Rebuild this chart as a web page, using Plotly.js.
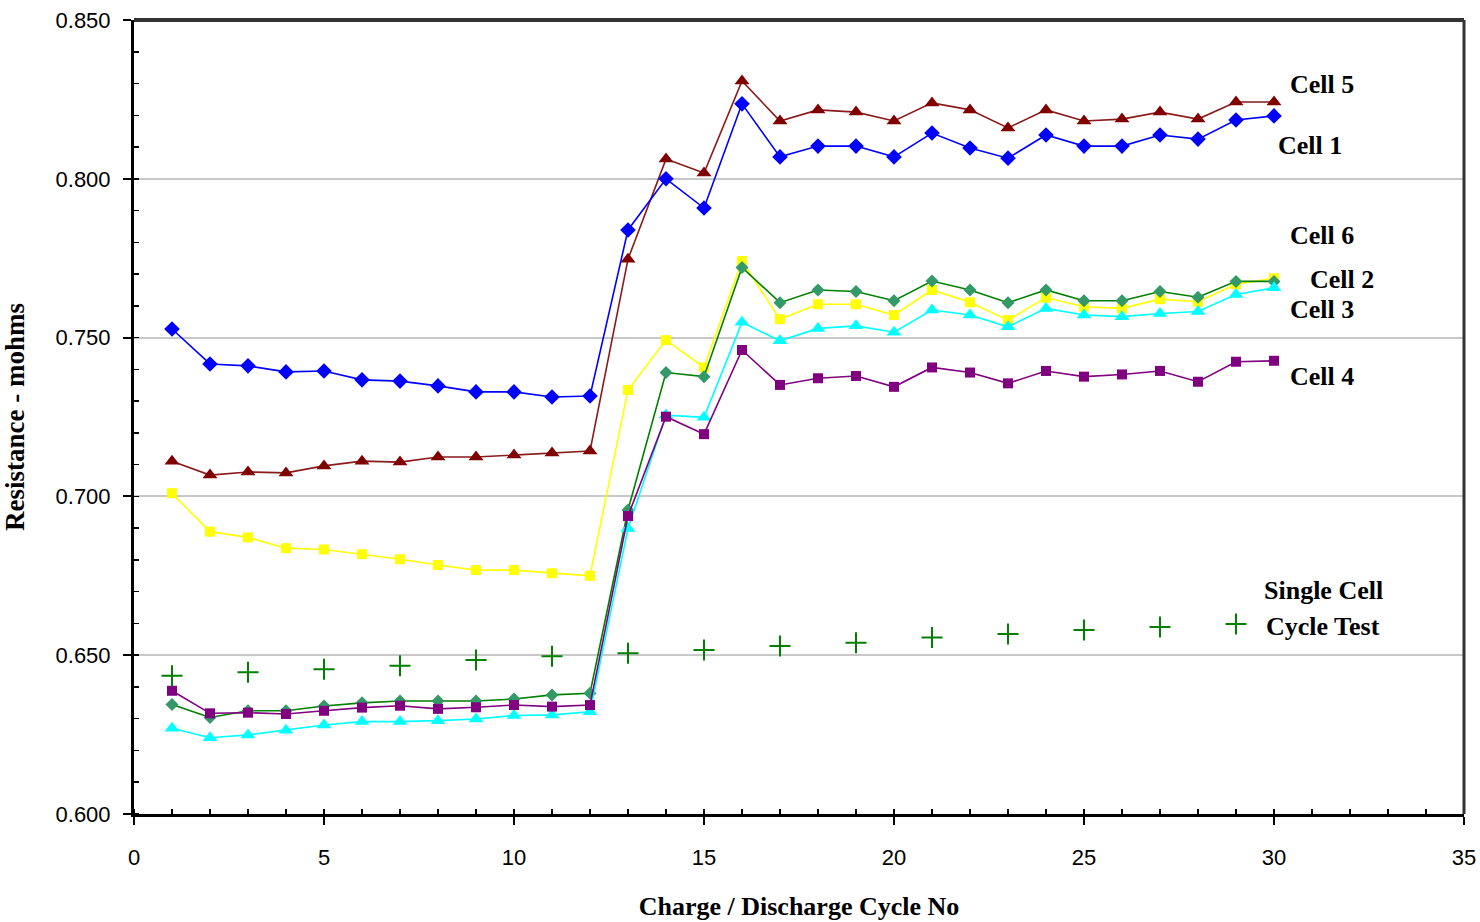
<!DOCTYPE html>
<html>
<head>
<meta charset="utf-8">
<script src="https://cdn.plot.ly/plotly-3.0.1.min.js"></script>
<style>
html,body{margin:0;padding:0;background:#fff;}
#chart{width:1480px;height:922px;}
</style>
</head>
<body>
<div id="chart"></div>
<script>
// ---- data ----
const cycles = [1,2,3,4,5,6,7,8,9,10,11,12,13,14,15,16,17,18,19,20,21,22,23,24,25,26,27,28,29,30];
const cell1 = [0.7527,0.7417,0.7411,0.7392,0.7395,0.7367,0.7363,0.7348,0.7329,0.7329,0.7313,0.7316,0.7839,0.8000,0.7908,0.8236,0.8069,0.8103,0.8103,0.8069,0.8144,0.8097,0.8065,0.8138,0.8103,0.8103,0.8138,0.8125,0.8185,0.8198];
const cell2 = [0.6345,0.6304,0.6325,0.6325,0.6340,0.6350,0.6356,0.6356,0.6356,0.6362,0.6375,0.6380,0.6957,0.7390,0.7377,0.7721,0.7610,0.7650,0.7645,0.7616,0.7678,0.7650,0.7610,0.7650,0.7616,0.7616,0.7645,0.7627,0.7677,0.7677];
const cell3 = [0.6270,0.6240,0.6249,0.6264,0.6280,0.6291,0.6291,0.6294,0.6299,0.6310,0.6312,0.6322,0.6899,0.7256,0.7249,0.7548,0.7490,0.7529,0.7537,0.7517,0.7587,0.7571,0.7534,0.7592,0.7571,0.7566,0.7576,0.7582,0.7636,0.7657];
const cell4 = [0.6388,0.6317,0.6319,0.6315,0.6325,0.6335,0.6341,0.6331,0.6336,0.6343,0.6338,0.6343,0.6938,0.7251,0.7196,0.7461,0.7351,0.7372,0.7379,0.7345,0.7406,0.7390,0.7356,0.7395,0.7377,0.7384,0.7395,0.7361,0.7424,0.7427];
const cell5 = [0.7111,0.7067,0.7077,0.7074,0.7096,0.7111,0.7108,0.7124,0.7124,0.7130,0.7137,0.7143,0.7747,0.8062,0.8018,0.8308,0.8182,0.8217,0.8210,0.8182,0.8239,0.8217,0.8160,0.8217,0.8182,0.8188,0.8210,0.8188,0.8242,0.8242];
const cell6 = [0.7010,0.6889,0.6871,0.6837,0.6833,0.6818,0.6802,0.6784,0.6768,0.6768,0.6758,0.6750,0.7335,0.7492,0.7406,0.7741,0.7558,0.7605,0.7605,0.7571,0.7650,0.7611,0.7555,0.7626,0.7597,0.7592,0.7621,0.7613,0.7668,0.7687];
const singleCycles = [1,3,5,7,9,11,13,15,17,19,21,23,25,27,29];
const singleCell = [0.6435,0.6446,0.6456,0.6467,0.6485,0.6497,0.6506,0.6516,0.6529,0.6539,0.6556,0.6567,0.6579,0.6589,0.6598];

const labelTexts = ["Cell 5","Cell 1","Cell 6","Cell 2","Cell 3","Cell 4","Single Cell","Cycle Test"];
const labelX = [31.26,30.95,31.26,31.79,31.26,31.26,31.29,31.29];
const labelY = [0.8298,0.8106,0.7820,0.7684,0.7588,0.7379,0.6705,0.6589];

const xTitle = "Charge / Discharge Cycle No";
const yTitle = "Resistance - mohms";

// ---- traces ----
function series(y, lineColor, markerColor, symbol, size) {
  return {
    x: cycles, y: y, type: 'scatter', mode: 'lines+markers',
    line: {color: lineColor, width: 1.6},
    marker: {color: markerColor, symbol: symbol, size: size, line: {width: 0}},
    hoverinfo: 'x+y'
  };
}
const traces = [
  series(cell5, '#8b1a1a', '#800000', 'triangle-up', 13),
  series(cell1, '#0000ff', '#0000ff', 'diamond', 12),
  series(cell6, '#ffff00', '#ffff00', 'square', 10),
  series(cell2, '#008000', '#339966', 'diamond', 10),
  series(cell3, '#00ffff', '#00ffff', 'triangle-up', 13),
  series(cell4, '#800080', '#800080', 'square', 10),
  {
    x: singleCycles, y: singleCell, type: 'scatter', mode: 'markers',
    marker: {symbol: 'cross-thin-open', size: 15, color: '#008000', line: {color: '#008000', width: 2}}
  }
];

const serif = '"Liberation Serif", "Times New Roman", serif';
const sans = '"Liberation Sans", Arial, sans-serif';

const annotations = labelTexts.map((t, i) => ({
  x: labelX[i], y: labelY[i], xref: 'x', yref: 'y', text: '<b>' + t + '</b>',
  showarrow: false, xanchor: 'center', yanchor: 'middle', borderpad: 0,
  font: {family: serif, size: 26, color: '#000'}
}));

const layout = {
  width: 1480, height: 922,
  margin: {l: 134, r: 16, t: 20, b: 108},
  paper_bgcolor: '#fff', plot_bgcolor: '#fff',
  showlegend: false,
  xaxis: {
    range: [0, 35], dtick: 5, tick0: 0,
    showgrid: false, zeroline: false,
    showline: true, linecolor: '#000', linewidth: 3,
    ticks: 'outside', ticklen: 8, tickwidth: 2, tickcolor: '#000',
    minor: {dtick: 1, ticks: 'inside', ticklen: 5, tickwidth: 1.5, tickcolor: '#000', showgrid: false},
    ticklabelstandoff: 14,
    tickfont: {family: sans, size: 22, color: '#000'},
    title: {text: '<b>' + xTitle + '</b>', font: {family: serif, size: 26, color: '#000'}, standoff: 28}
  },
  yaxis: {
    range: [0.6, 0.85], dtick: 0.05, tick0: 0.6, tickformat: '.3f',
    showgrid: true, gridcolor: '#c8c8c8', gridwidth: 2,
    zeroline: false,
    showline: true, linecolor: '#000', linewidth: 3,
    ticks: 'outside', ticklen: 8, tickwidth: 2, tickcolor: '#000',
    minor: {dtick: 0.01, ticks: 'inside', ticklen: 5, tickwidth: 1.5, tickcolor: '#000', showgrid: false},
    ticklabelstandoff: 8,
    tickfont: {family: sans, size: 22, color: '#000'},
    title: {text: '<b>' + yTitle + '</b>', font: {family: serif, size: 27, color: '#000'}, standoff: 26}
  },
  shapes: [
    {type: 'line', xref: 'paper', yref: 'paper', x0: 0, x1: 1, y0: 1, y1: 1, line: {color: '#333', width: 4}},
    {type: 'line', xref: 'paper', yref: 'paper', x0: 1, x1: 1, y0: 0, y1: 1, line: {color: '#333', width: 3}}
  ],
  annotations: annotations
};

Plotly.newPlot('chart', traces, layout, {displayModeBar: false, staticPlot: true});
</script>
</body>
</html>
